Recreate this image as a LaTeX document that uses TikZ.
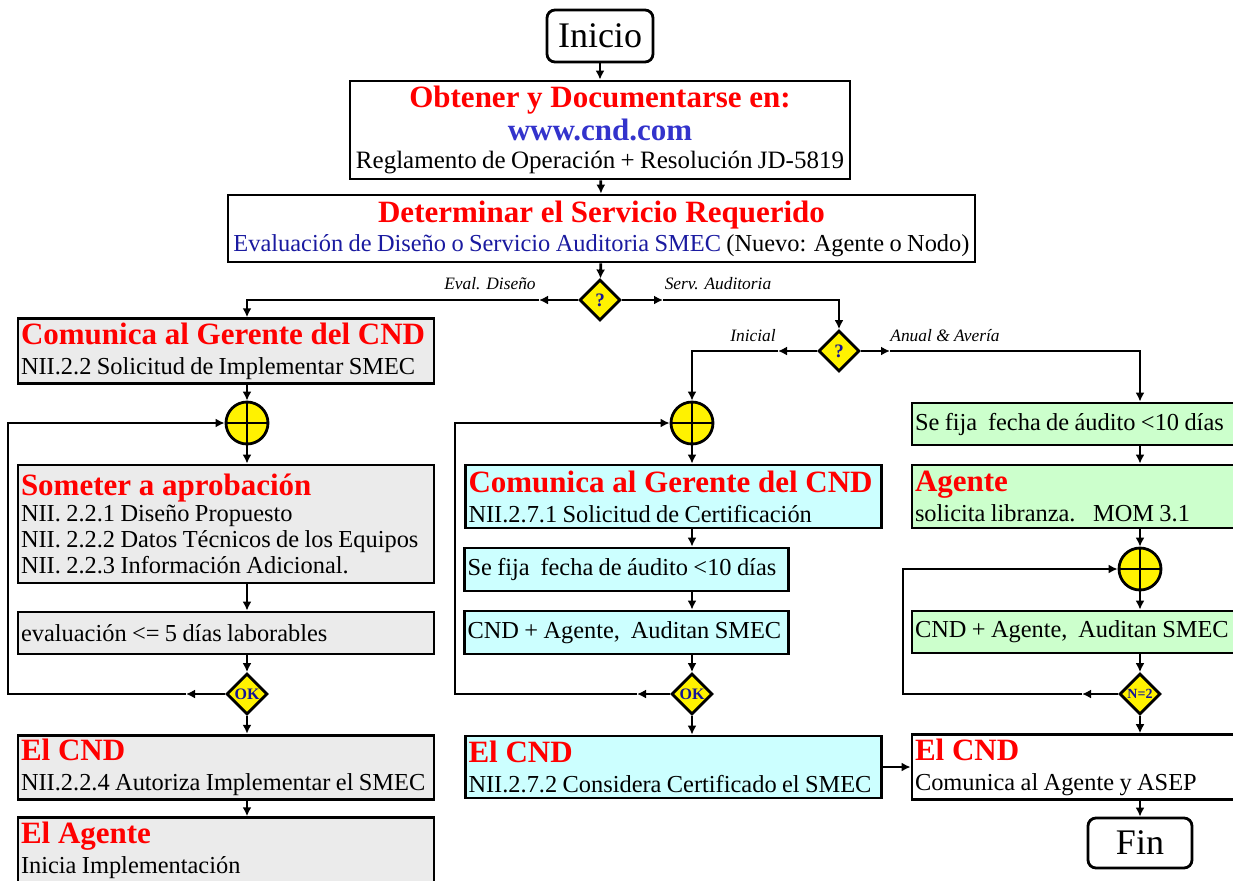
\documentclass[tikz,border=0pt]{standalone}
\usepackage{fontspec}
\setmainfont{Liberation Serif}
\usetikzlibrary{shapes.geometric,arrows.meta}

\definecolor{boxgray}{RGB}{235,235,235}
\definecolor{boxcyan}{RGB}{204,255,255}
\definecolor{boxgreen}{RGB}{204,255,204}
\definecolor{linkblue}{RGB}{51,51,204}
\definecolor{evalblue}{RGB}{26,26,160}
\definecolor{qblue}{RGB}{20,20,150}

\newcommand{\boxtitle}[1]{{\fontsize{15.5}{17}\selectfont\spaceskip=0pt\relax\bfseries\color{red}#1}}
\newcommand{\tightspaces}{\spaceskip=0.22em plus 0.1em minus 0.04em\relax}

\tikzset{
  flowbox/.style={draw, line width=1.4pt, inner xsep=1.5pt, inner ysep=2pt, align=left,
    font=\fontsize{12.2}{13}\selectfont, execute at begin node=\tightspaces},
  widebox/.style={flowbox, text width=205pt},
  narrowbox/.style={flowbox, text width=159pt},
  terminal/.style={draw, line width=1.4pt, rounded corners=4pt, fill=white, font=\fontsize{18}{20}\selectfont},
  decision/.style={diamond, draw, line width=1.4pt, fill=yellow, inner sep=0pt, minimum size=20.5pt, text=qblue},
  junction/.style={circle, draw, line width=1.4pt, fill=yellow, inner sep=0pt, minimum size=21pt},
  branch/.style={font=\fontsize{8.7}{10}\selectfont\itshape},
  link/.style={line width=1.4pt, -{Latex[length=4.5pt,width=4.5pt]}}
}

\begin{document}
\begin{tikzpicture}[x=0.5pt,y=-0.5pt]
    \useasboundingbox (0,0) rectangle (1233,880);

    % Top of the chart
    \node[terminal, minimum width=53pt, minimum height=26pt] (ini) at (600,36) {Inicio};
    \node[flowbox, align=center, minimum width=250pt, minimum height=49pt, fill=white] (doc) at (600,130)
        {\boxtitle{Obtener y Documentarse en:}\\[1.5pt]{\fontsize{15.5}{17}\selectfont\bfseries\color{linkblue}www.cnd.com}\\[1pt]{\fontsize{12.5}{13}\selectfont Reglamento de Operación + Resolución JD-5819}};
    \node[flowbox, align=center, minimum width=373.5pt, minimum height=33.5pt, fill=white] (serv) at (601.5,228.5)
        {\boxtitle{Determinar el Servicio Requerido}\\[1.5pt]{\color{evalblue}Evaluación de Diseño o Servicio Auditoria SMEC} (Nuevo: Agente o Nodo)};

    % Decisions
    \node[decision, font=\fontsize{9.5}{10}\selectfont\bfseries] (q1) at (600,300) {?};
    \node[decision, font=\fontsize{9.5}{10}\selectfont\bfseries] (q2) at (839,351) {?};
    \node[branch] (lbEval) at (490,284) {Eval. Diseño};
    \node[branch] (lbServ) at (718,284) {Serv. Auditoria};
    \node[branch] (lbIni) at (753,336) {Inicial};
    \node[branch] (lbAnual) at (945,336) {Anual \& Avería};

    % Left column: design evaluation
    \node[widebox, fill=boxgray, minimum height=31pt] (gc1) at (226,351)
        {\boxtitle{Comunica al Gerente del CND}\\[2pt]NII.2.2 Solicitud de Implementar SMEC};
    \node[junction] (c1) at (247,423) {};
    \node[widebox, fill=boxgray, minimum height=59pt] (ap) at (226,524)
        {\boxtitle{Someter a aprobación}\\NII. 2.2.1 Diseño Propuesto\\NII. 2.2.2 Datos Técnicos de los Equipos\\NII. 2.2.3 Información Adicional.};
    \node[widebox, fill=boxgray, minimum height=21pt] (ev) at (226,633) {evaluación <= 5 días laborables};
    \node[decision, font=\fontsize{8}{9}\selectfont\bfseries] (ok1) at (247,694) {OK};
    \node[widebox, fill=boxgray, minimum height=31.5pt] (cnd1) at (226,767.5)
        {\boxtitle{El CND}\\[2pt]NII.2.2.4 Autoriza Implementar el SMEC};
    \node[widebox, fill=boxgray, minimum height=32pt] (ag) at (226,850)
        {\boxtitle{El Agente}\\[2pt]Inicia Implementación};

    % Middle column: initial audit
    \node[junction] (c2) at (692,423) {};
    \node[widebox, fill=boxcyan, minimum height=31.5pt] (m1) at (673.5,496.5)
        {\boxtitle{Comunica al Gerente del CND}\\[2pt]NII.2.7.1 Solicitud de Certificación};
    \node[narrowbox, fill=boxcyan, minimum height=21.5pt] (m2) at (626.5,569.5) {Se fija~ fecha de áudito <10 días};
    \node[narrowbox, fill=boxcyan, minimum height=21.5pt] (m3) at (626.5,632.5) {CND + Agente,~ Auditan SMEC};
    \node[decision, font=\fontsize{8}{9}\selectfont\bfseries] (ok2) at (692,694) {OK};
    \node[widebox, fill=boxcyan, minimum height=31pt] (m4) at (673.5,767)
        {\boxtitle{El CND}\\[2pt]NII.2.7.2 Considera Certificado el SMEC};

    % Right column: yearly audit
    \node[narrowbox, fill=boxgreen, minimum height=21pt] (r1) at (1074,424) {Se fija~ fecha de áudito <10 días};
    \node[narrowbox, fill=boxgreen, minimum height=31.5pt] (r2) at (1074,496.5)
        {\boxtitle{Agente}\\[2pt]solicita libranza.~ MOM 3.1};
    \node[junction] (c3) at (1140,569) {};
    \node[narrowbox, fill=boxgreen, minimum height=21pt] (r3) at (1074,632) {CND + Agente,~ Auditan SMEC};
    \node[decision, font=\fontsize{7}{8}\selectfont\bfseries] (ok3) at (1140,694) {N=2};
    \node[narrowbox, fill=white, minimum height=31pt] (r5) at (1074,767)
        {\boxtitle{El CND}\\[2pt]Comunica al Agente y ASEP};
    \node[terminal, minimum width=52pt, minimum height=25pt] (fin) at (1140,843) {Fin};

    % Crosses in the junctions
    \foreach \c in {c1,c2,c3}
        \draw[line width=1.4pt] (\c.north) -- (\c.south) (\c.west) -- (\c.east);

    % Bends and loop corners
    \coordinate (q1L) at (539,300);
    \coordinate (q1R) at (663,300);
    \coordinate (q2L) at (778,351);
    \coordinate (q2R) at (890,351);
    \coordinate (ok1L) at (186,694);
    \coordinate (fb1) at (8,694);
    \coordinate (ok2L) at (637,694);
    \coordinate (fb2) at (455,694);
    \coordinate (ok3L) at (1082,694);
    \coordinate (fb3) at (903,694);

    % Main flow
    \draw[link] (ini) -- (doc);
    \draw[link] (doc) -- (serv);
    \draw[link] (serv) -- (q1);
    \draw[link] (q1) -- (q1L);
    \draw[link] (q1L) -| (c1 |- gc1.north);
    \draw[link] (q1) -- (q1R);
    \draw[link] (q1R) -| (q2);
    \draw[link] (q2) -- (q2L);
    \draw[link] (q2L) -| (c2);
    \draw[link] (q2) -- (q2R);
    \draw[link] (q2R) -| (c3 |- r1.north);

    % Left column
    \draw[link] (gc1.south -| c1) -- (c1);
    \draw[link] (c1) -- (c1 |- ap.north);
    \draw[link] (ap.south -| c1) -- (c1 |- ev.north);
    \draw[link] (ev.south -| c1) -- (ok1);
    \draw[link] (ok1) -- (c1 |- cnd1.north);
    \draw[link] (cnd1.south -| c1) -- (c1 |- ag.north);
    \draw[link] (ok1) -- (ok1L);
    \draw[link] (ok1L) -- (fb1) |- (c1);

    % Middle column
    \draw[link] (c2) -- (c2 |- m1.north);
    \draw[link] (m1.south -| c2) -- (c2 |- m2.north);
    \draw[link] (m2.south -| c2) -- (c2 |- m3.north);
    \draw[link] (m3.south -| c2) -- (ok2);
    \draw[link] (ok2) -- (c2 |- m4.north);
    \draw[link] (ok2) -- (ok2L);
    \draw[link] (ok2L) -- (fb2) |- (c2);
    \draw[link] (m4) -- (r5);

    % Right column
    \draw[link] (r1.south -| c3) -- (c3 |- r2.north);
    \draw[link] (r2.south -| c3) -- (c3);
    \draw[link] (c3) -- (c3 |- r3.north);
    \draw[link] (r3.south -| c3) -- (ok3);
    \draw[link] (ok3) -- (c3 |- r5.north);
    \draw[link] (r5.south -| c3) -- (fin);
    \draw[link] (ok3) -- (ok3L);
    \draw[link] (ok3L) -- (fb3) |- (c3);
\end{tikzpicture}
\end{document}
